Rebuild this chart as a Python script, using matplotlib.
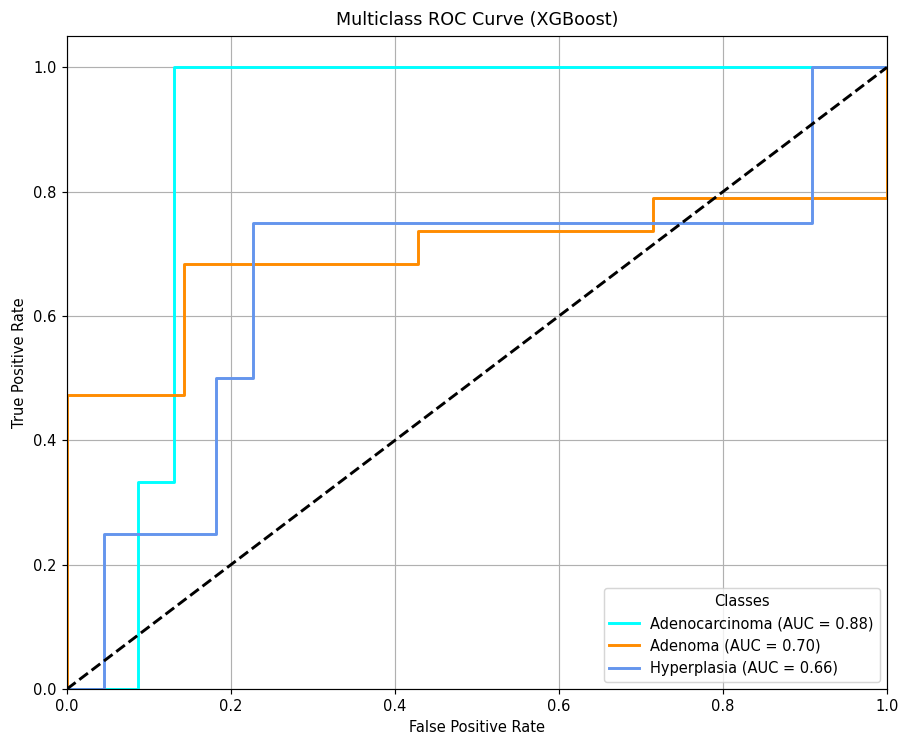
import matplotlib
matplotlib.use("Agg")
import matplotlib.pyplot as plt

classes = ["Adenocarcinoma", "Adenoma", "Hyperplasia"]
aucs = [0.88, 0.70, 0.66]
colors = ["aqua", "darkorange", "cornflowerblue"]

fpr_adenocarcinoma = [0.0, 2/23, 2/23, 3/23, 3/23, 1.0]
tpr_adenocarcinoma = [0.0, 0.0, 1/3, 1/3, 1.0, 1.0]

fpr_adenoma = [0.0, 0.0, 1/7, 1/7, 3/7, 3/7, 5/7, 5/7, 1.0, 1.0]
tpr_adenoma = [0.0, 9/19, 9/19, 13/19, 13/19, 14/19, 14/19, 15/19, 15/19, 1.0]

fpr_hyperplasia = [0.0, 1/22, 1/22, 4/22, 4/22, 5/22, 5/22, 20/22, 20/22, 1.0]
tpr_hyperplasia = [0.0, 0.0, 0.25, 0.25, 0.5, 0.5, 0.75, 0.75, 1.0, 1.0]

fprs = [fpr_adenocarcinoma, fpr_adenoma, fpr_hyperplasia]
tprs = [tpr_adenocarcinoma, tpr_adenoma, tpr_hyperplasia]

DPI = 105
fig = plt.figure(figsize=(899 / DPI, 735 / DPI), dpi=DPI)
ax = fig.add_axes([0.0745, 0.0626, 0.9121, 0.888])

for name, auc, c, f, t in zip(classes, aucs, colors, fprs, tprs):
    ax.plot(f, t, color=c, lw=2, label=f"{name} (AUC = {auc:.2f})")

ax.plot([0, 1], [0, 1], "k--", lw=2)
ax.set_xlim(0.0, 1.0)
ax.set_ylim(0.0, 1.05)
ax.set_xlabel("False Positive Rate")
ax.set_ylabel("True Positive Rate")
ax.set_title("Multiclass ROC Curve (XGBoost)", pad=8)
ax.legend(loc="lower right", title="Classes")
ax.grid(True)

fig.savefig("out.png", dpi=DPI)
